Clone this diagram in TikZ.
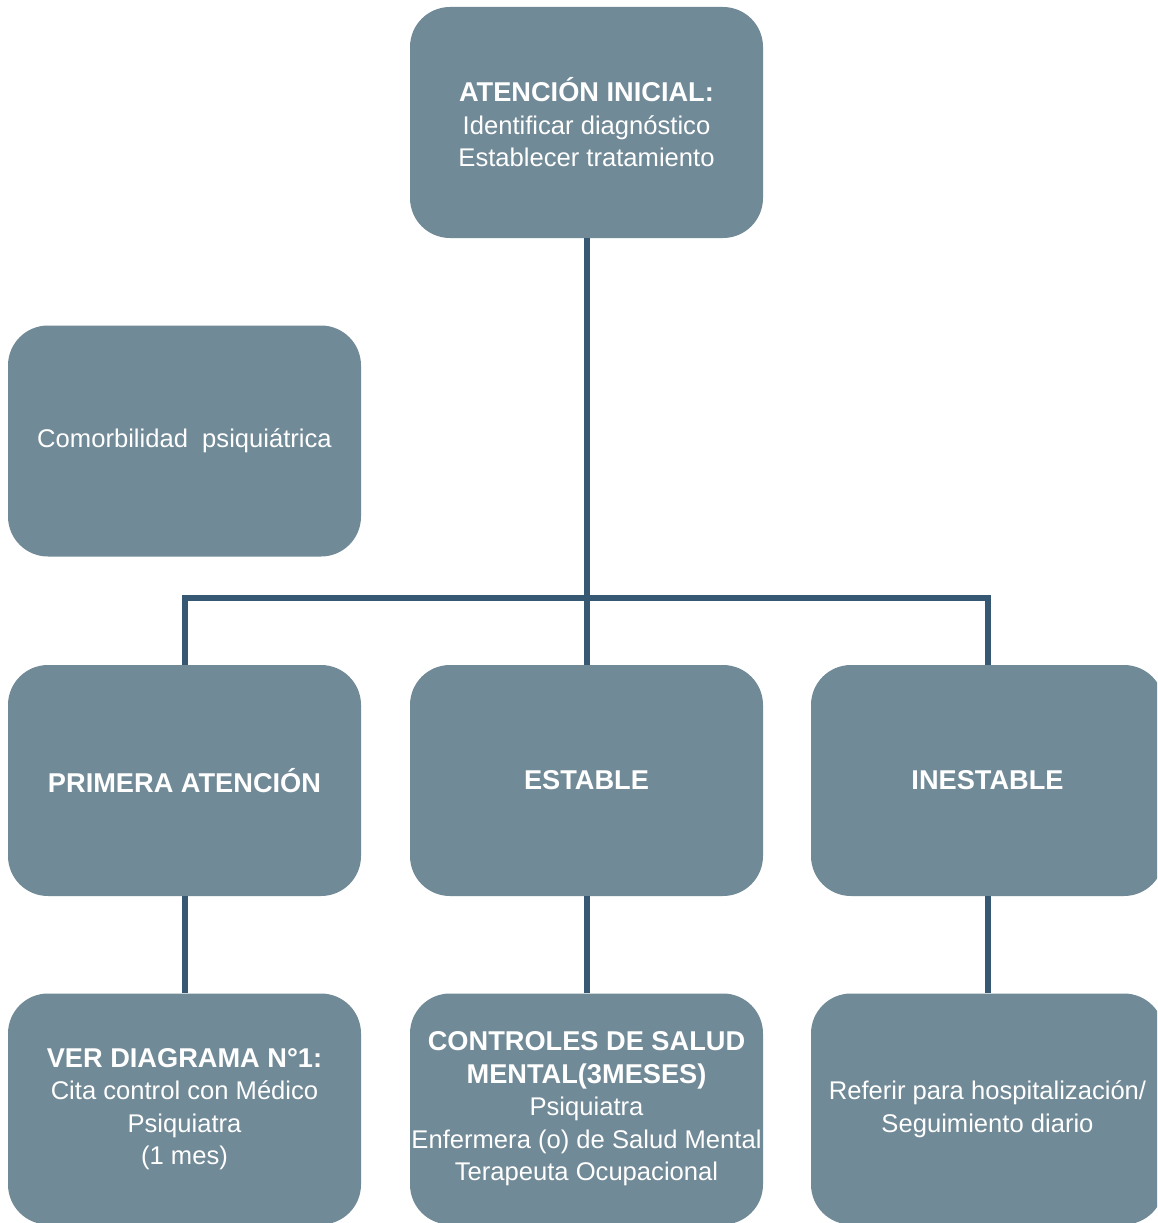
\documentclass[tikz,border=0pt]{standalone}
\usepackage{fontspec}
\setmainfont{Liberation Sans}
\definecolor{boxfill}{HTML}{718A97}
\definecolor{linecol}{HTML}{365872}
\newcommand{\hd}[1]{{\fontsize{27.2}{32.5}\selectfont\bfseries #1}}
\tikzset{
  box/.style={rectangle, rounded corners=40pt, fill=boxfill, draw=none,
    minimum width=353pt, minimum height=231pt, inner sep=0pt,
    align=center, text=white, font=\fontsize{25.6}{32.5}\selectfont},
  conn/.style={draw=linecol, line width=6pt}
}
\begin{document}
\begin{tikzpicture}[x=1pt,y=-1pt]
\useasboundingbox (0,0) rectangle (1157,1223);
\clip (0,0) rectangle (1157,1223);
\fill[white] (0,0) rectangle (1157,1223);
\coordinate (j) at (586.5,598);
\draw[conn, line join=miter] (184.5,665) |- (j) -| (988,665);
\node[box] (top) at (586.5,122.5) {\hd{ATENCIÓN INICIAL:}\\Identificar diagnóstico\\Establecer tratamiento};
\node[box] (comor) at (184.5,441) {Comorbilidad\ \ psiquiátrica};
\node[box] (prim) at (184.5,780.5) {\hd{PRIMERA ATENCIÓN}};
\node[box] (est) at (586.5,780.5) {\hd{ESTABLE}};
\node[box] (inest) at (987.5,780.5) {\hd{INESTABLE}};
\node[box] (ver) at (184.5,1109) {\hd{VER DIAGRAMA N°1:}\\Cita control con Médico\\Psiquiatra\\(1 mes)};
\node[box] (ctrl) at (586.5,1109) {\hd{CONTROLES DE SALUD}\\\hd{MENTAL(3MESES)}\\Psiquiatra\\Enfermera (o) de Salud Mental\\Terapeuta Ocupacional};
\node[box] (ref) at (987.5,1109) {Referir para hospitalización/\\Seguimiento diario};
\draw[conn] (top.south) -- (j);
\draw[conn] (j) -- (est.north);
\draw[conn] (prim.south) -- (ver.north);
\draw[conn] (est.south) -- (ctrl.north);
\draw[conn] (inest.south) -- (ref.north);
\end{tikzpicture}
\end{document}
